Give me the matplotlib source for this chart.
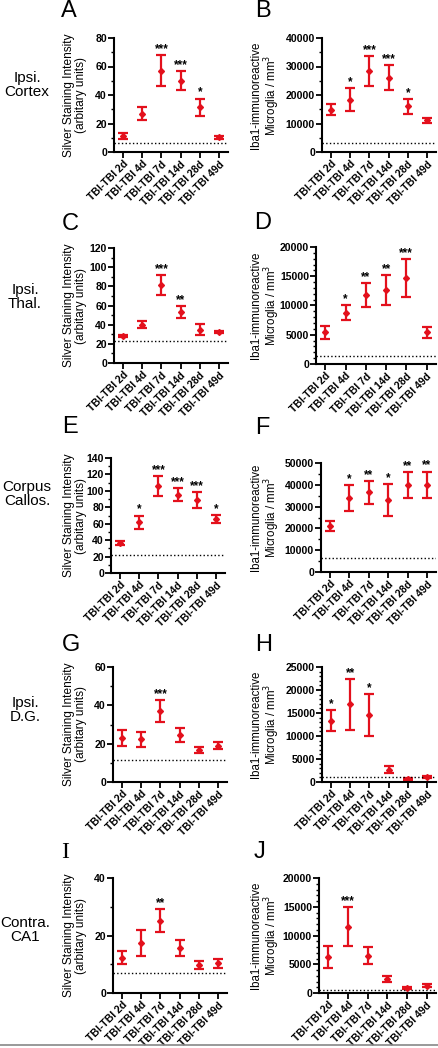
import matplotlib
matplotlib.use("Agg")
import matplotlib.pyplot as plt
from matplotlib.ticker import AutoMinorLocator
from matplotlib.lines import Line2D

plt.rcParams['font.family'] = ['Liberation Sans', 'DejaVu Sans']

# time points (same for every panel)
days = ["TBI-TBI 2d", "TBI-TBI 4d", "TBI-TBI 7d", "TBI-TBI 14d", "TBI-TBI 28d", "TBI-TBI 49d"]

regions = ["Ipsi.\nCortex", "Ipsi.\nThal.", "Corpus\nCallos.", "Ipsi.\nD.G.", "Contra.\nCA1"]

# silver staining (left column)
silver_A = [11, 27, 57, 50, 31.5, 10.3]
silver_A_err = [2, 4.3, 11, 6.7, 6, 1]
silver_A_ctrl = 6
silver_A_stars = ["", "", "***", "***", "*", ""]

silver_C = [28.2, 40, 81, 53.2, 34.8, 32.3]
silver_C_err = [1.5, 3.7, 10.5, 6.6, 6, 1]
silver_C_ctrl = 23.3
silver_C_stars = ["", "", "***", "**", "", ""]

silver_E = [36.6, 62, 106, 95.5, 89, 65.5]
silver_E_err = [2.5, 8, 12.5, 8, 9.8, 5]
silver_E_ctrl = 22.4
silver_E_stars = ["", "*", "***", "***", "***", "*"]

silver_G = [23, 22.3, 36.9, 24.7, 16.7, 19]
silver_G_err = [4.2, 3.9, 5.7, 3.6, 1.5, 2]
silver_G_ctrl = 11.5
silver_G_stars = ["", "", "***", "", "", ""]

silver_I = [12.3, 17.4, 25.1, 15.6, 9.8, 10.3]
silver_I_err = [2.3, 4.5, 4, 2.7, 1.3, 1.5]
silver_I_ctrl = 7.1
silver_I_stars = ["", "", "**", "", "", ""]

# Iba1 microglia counts (right column)
iba_B = [14800, 18400, 28500, 26000, 16000, 11200]
iba_B_err = [1900, 3900, 5300, 4400, 2700, 900]
iba_B_ctrl = 3200
iba_B_stars = ["", "*", "***", "***", "*", ""]

iba_D = [5400, 8800, 11800, 12650, 14700, 5400]
iba_D_err = [1050, 1200, 2000, 2600, 3200, 1000]
iba_D_ctrl = 1300
iba_D_stars = ["", "*", "**", "**", "***", ""]

iba_F = [21100, 34000, 36500, 33000, 40000, 40000]
iba_F_err = [2400, 5900, 5300, 7500, 5900, 6100]
iba_F_ctrl = 6500
iba_F_stars = ["", "*", "**", "*", "**", "**"]

iba_H = [13300, 16900, 14600, 2700, 650, 1000]
iba_H_err = [2300, 5500, 4600, 750, 200, 200]
iba_H_ctrl = 1100
iba_H_stars = ["*", "**", "*", "", "", ""]

iba_J = [6300, 11500, 6500, 2500, 870, 1280]
iba_J_err = [1900, 3400, 1500, 500, 150, 200]
iba_J_ctrl = 600
iba_J_stars = ["", "***", "", "", "", ""]

RED = '#e3101c'
W, H = 438, 1048

fig = plt.figure(figsize=(W / 100, H / 100), dpi=100)

silver_label = "Silver Staining Intensity\n(arbitary units)"
iba_label = "Iba1-immunoreactive\nMicroglia / mm$^{3}$"

# (letter, values, errors, control line, stars, y ticks, minor, ylabel, left px, top px, bottom px, right px)
panels = [
    ("A", silver_A, silver_A_err, silver_A_ctrl, silver_A_stars, range(0, 81, 20), 2, silver_label, 114, 38, 152, 228),
    ("B", iba_B, iba_B_err, iba_B_ctrl, iba_B_stars, range(0, 40001, 10000), 2, iba_label, 322, 38, 152, 436),
    ("C", silver_C, silver_C_err, silver_C_ctrl, silver_C_stars, range(0, 121, 20), 2, silver_label, 114, 248, 363, 228),
    ("D", iba_D, iba_D_err, iba_D_ctrl, iba_D_stars, range(0, 20001, 5000), 5, iba_label, 316, 247, 364, 436),
    ("E", silver_E, silver_E_err, silver_E_ctrl, silver_E_stars, range(0, 141, 20), 2, silver_label, 111, 458, 573, 225),
    ("F", iba_F, iba_F_err, iba_F_ctrl, iba_F_stars, range(0, 50001, 10000), 2, iba_label, 321, 463, 572, 436),
    ("G", silver_G, silver_G_err, silver_G_ctrl, silver_G_stars, range(0, 61, 20), 2, silver_label, 113, 667, 782, 227),
    ("H", iba_H, iba_H_err, iba_H_ctrl, iba_H_stars, range(0, 25001, 5000), 5, iba_label, 322, 667, 782, 436),
    ("I", silver_I, silver_I_err, silver_I_ctrl, silver_I_stars, range(0, 41, 20), 2, silver_label, 113, 878, 993, 227),
    ("J", iba_J, iba_J_err, iba_J_ctrl, iba_J_stars, range(0, 20001, 5000), 5, iba_label, 319, 878, 993, 436),
]

x = list(range(len(days)))

for letter, vals, errs, ctrl, stars, yt, nminor, ylab, lpx, tpx, bpx, rpx in panels:
    ax = fig.add_axes([lpx / W, 1 - bpx / H, (rpx - lpx) / W, (bpx - tpx) / H])

    ax.errorbar(x, vals, yerr=errs, fmt='D', color=RED, ecolor=RED,
                markersize=3, elinewidth=1.6, capsize=3.5, capthick=1.6)
    ax.axhline(ctrl, color='black', linestyle=':', linewidth=1)

    # significance stars above the error bars
    for xi, v, e, s in zip(x, vals, errs, stars):
        if s:
            ax.annotate(s, (xi, v + e), xytext=(0, 0), textcoords='offset points',
                        ha='center', va='bottom', fontsize=8.5, fontweight='bold')

    ax.set_xlim(-0.47, 5.47)
    ax.set_ylim(yt[0], yt[-1])
    ax.set_yticks(list(yt))
    ax.yaxis.set_minor_locator(AutoMinorLocator(nminor))
    ax.set_xticks(x)
    ax.set_xticklabels(days, rotation=45, ha='right', rotation_mode='anchor',
                       fontsize=7.5, fontweight='bold')
    for lbl in ax.get_yticklabels():
        lbl.set_fontweight('bold')
        lbl.set_fontsize(7.6)

    for side in ['top', 'right']:
        ax.spines[side].set_visible(False)
    for side in ['left', 'bottom']:
        ax.spines[side].set_linewidth(1.5)
    ax.tick_params(axis='both', which='major', width=1.3, length=4, pad=1)
    ax.tick_params(axis='y', which='minor', width=1, length=2.5)

    # y label: right edge of the text block at a fixed pixel column
    if letter in "ACEGI":
        ax.set_ylabel(ylab, fontsize=8.6, linespacing=1.05)
        label_right = 87
    else:
        ax.set_ylabel(ylab, fontsize=8.3, linespacing=1.0)
        label_right = 282
    ax.yaxis.set_label_coords((label_right - lpx) / (rpx - lpx), 0.5)

# panel letters, pixel centres
letter_pos = {"A": (69, 11), "B": (263, 11), "C": (70, 224), "D": (263, 223),
              "E": (70, 427), "F": (262, 428), "G": (71, 645), "H": (264, 645),
              "I": (65, 853), "J": (260, 852)}
for k, (px, py) in letter_pos.items():
    fam = ['Liberation Serif'] if k == "I" else ['Liberation Sans']
    fig.text(px / W, 1 - py / H, k, fontsize=17, ha='center', va='center', family=fam)

# brain region names on the left
region_pos = [(27, 85), (25, 297), (27, 494), (25, 710), (25, 930)]
for name, (px, py) in zip(regions, region_pos):
    fig.text(px / W, 1 - py / H, name, fontsize=11, ha='center', va='center', linespacing=1.0)

# thin grey rule at the very bottom
fig.add_artist(Line2D([0, 1], [3 / H, 3 / H], color='#888888', linewidth=1.2))

fig.savefig("out.png", dpi=100)
